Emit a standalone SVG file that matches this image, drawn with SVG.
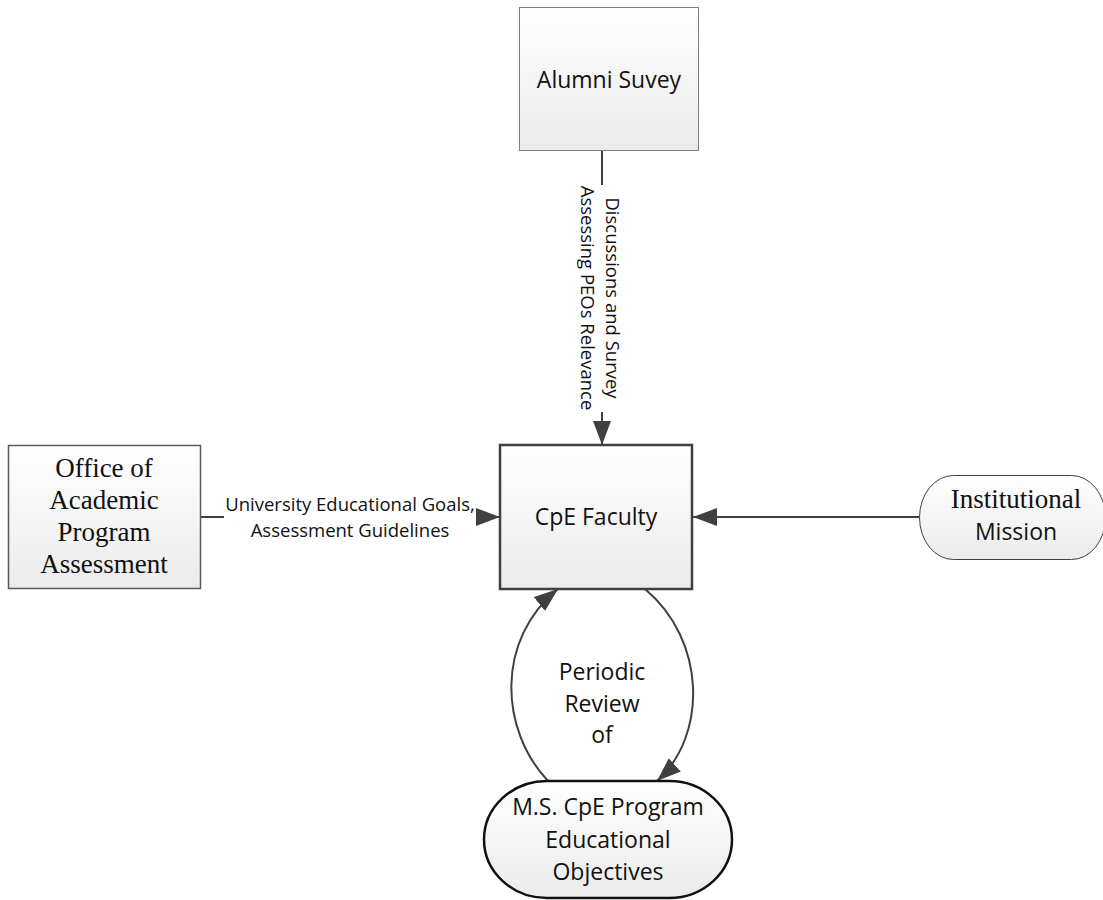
<svg xmlns="http://www.w3.org/2000/svg" width="1103" height="900" viewBox="0 0 1103 900">
  <style>
    .sans { font-family: "Open Sans", "Noto Sans", "DejaVu Sans", sans-serif; fill: #111; }
    .serif { font-family: "Liberation Serif", "Times New Roman", serif; fill: #111; font-size: 27px; text-anchor: middle; }
    .node-text { font-size: 23px; text-anchor: middle; }
    .label { font-size: 18.5px; text-anchor: middle; }
    .link { fill: none; stroke: #404040; stroke-width: 2; }
  </style>
  <defs>
    <linearGradient id="boxFill" x1="0" y1="0" x2="0" y2="1">
      <stop offset="0" stop-color="#ffffff"/>
      <stop offset="1" stop-color="#ebebeb"/>
    </linearGradient>
    <marker id="arrow" markerUnits="userSpaceOnUse" markerWidth="26" markerHeight="20" refX="24" refY="9" orient="auto">
      <path d="M0,0 L24,9 L0,18 z" fill="#404040"/>
    </marker>
  </defs>

  <!-- connectors -->
  <g id="connectors">
    <!-- survey feedback into faculty -->
    <line class="link" x1="602" y1="150" x2="602" y2="185"/>
    <line class="link" x1="602" y1="412" x2="602" y2="445" marker-end="url(#arrow)"/>
    <g transform="translate(600,298) rotate(90)">
      <text class="sans label" x="0" y="-5.5">Discussions and Survey</text>
      <text class="sans label" x="0" y="19.5">Assessing PEOs Relevance</text>
    </g>

    <!-- university goals into faculty -->
    <line class="link" x1="201" y1="517" x2="224" y2="517"/>
    <line class="link" x1="476" y1="517" x2="500" y2="517" marker-end="url(#arrow)"/>
    <text class="sans label" x="350" y="511">University Educational Goals,</text>
    <text class="sans label" x="350" y="537">Assessment Guidelines</text>

    <!-- institutional mission into faculty -->
    <line class="link" x1="919" y1="517" x2="693" y2="517" marker-end="url(#arrow)"/>

    <!-- review loop -->
    <path class="link" d="M548,781 C500,730 495,640 558,589" marker-end="url(#arrow)"/>
    <path class="link" d="M645,589 C706,640 708,735 657,781" marker-end="url(#arrow)"/>
    <text class="sans node-text" x="602" y="680">Periodic</text>
    <text class="sans node-text" x="602" y="712">Review</text>
    <text class="sans node-text" x="602" y="743">of</text>
  </g>

  <g id="alumni-survey">
    <rect x="519.5" y="7.5" width="179" height="143" fill="url(#boxFill)" stroke="#7f7f7f" stroke-width="1"/>
    <text class="sans node-text" x="609" y="88">Alumni Suvey</text>
  </g>

  <g id="office-assessment">
    <rect x="8.5" y="445.5" width="192" height="143" fill="url(#boxFill)" stroke="#595959" stroke-width="1.5"/>
    <text class="serif" x="104" y="477">Office of</text>
    <text class="serif" x="104" y="509">Academic</text>
    <text class="serif" x="104" y="541">Program</text>
    <text class="serif" x="104" y="573">Assessment</text>
  </g>

  <g id="cpe-faculty">
    <rect x="500" y="445" width="192" height="144" fill="url(#boxFill)" stroke="#404040" stroke-width="2.5"/>
    <text class="sans node-text" x="596" y="525">CpE Faculty</text>
  </g>

  <g id="institutional-mission">
    <rect x="919.5" y="475.5" width="186" height="84" rx="34" ry="42" fill="url(#boxFill)" stroke="#404040" stroke-width="1"/>
    <text class="serif" x="1016" y="508">Institutional</text>
    <text class="sans node-text" x="1016" y="540">Mission</text>
  </g>

  <g id="program-objectives">
    <rect x="484" y="781" width="248" height="117" rx="63" ry="58.5" fill="url(#boxFill)" stroke="#111" stroke-width="2.5"/>
    <text class="sans node-text" x="608" y="815">M.S. CpE Program</text>
    <text class="sans node-text" x="608" y="848">Educational</text>
    <text class="sans node-text" x="608" y="880">Objectives</text>
  </g>
</svg>
